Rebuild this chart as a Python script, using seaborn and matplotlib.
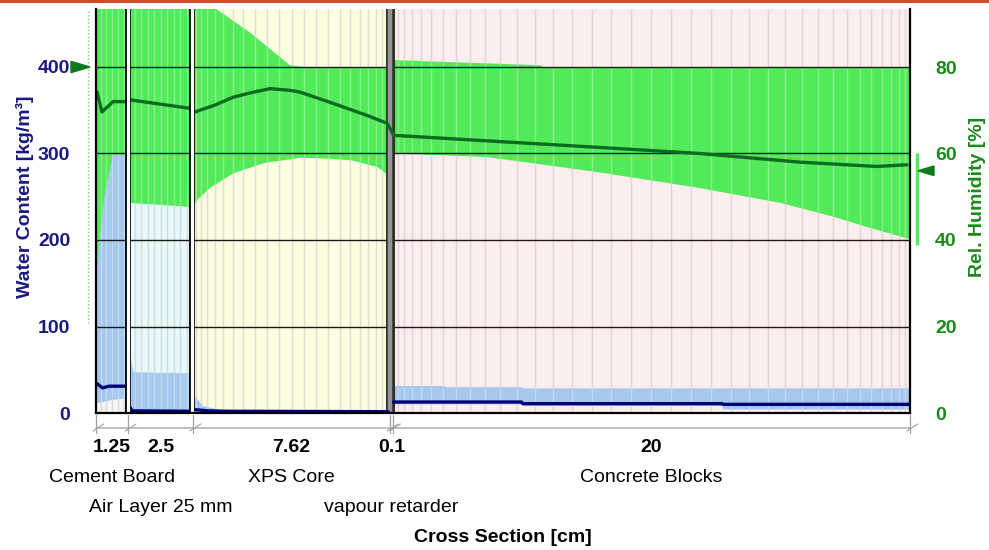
import numpy as np
import pandas as pd
import matplotlib
matplotlib.use("Agg")
import matplotlib.pyplot as plt
import seaborn as sns
from matplotlib.transforms import blended_transform_factory
from matplotlib.patches import Polygon, Rectangle
from matplotlib.lines import Line2D

# ---------------- data ----------------
layer_names = ["Cement Board", "Air Layer 25 mm", "XPS Core", "vapour retarder", "Concrete Blocks"]
layer_thickness_cm = [1.25, 2.5, 7.62, 0.1, 20.0]
thickness_labels = ["1.25", "2.5", "7.62", "0.1", "20"]
name_row = [0, 1, 0, 1, 0]            # which text row each layer name sits in
mesh_intervals = [6, 10, 22, 0, 36]    # numerical grid cells per layer
layer_bg = ["#f6f6f6", "#e8f9fb", "#fdfde2", "#8c8c8c", "#fdeeee"]

wc_ticks = [0, 100, 200, 300, 400]
rh_ticks = [0, 20, 40, 60, 80]

# Relative humidity envelope (min / max over the run), % ; x in cm
rh_env_x_max = [[0.0, 1.25], [1.25, 3.75],
                [3.75, 4.7, 5.95, 7.5, 8.0, 11.37],
                [11.47, 17.2, 17.25, 31.47]]
rh_env_max = [[100, 100], [100, 100],
              [97.4, 93.2, 88.0, 80.4, 80.0, 80.0],
              [81.6, 80.4, 80.0, 80.0]]
rh_env_x_min = [[0.0, 1.25], [1.25, 3.75],
                [3.75, 3.9, 4.4, 5.3, 6.5, 7.9, 9.0, 9.9, 10.9, 11.37],
                [11.47, 15.1, 19.5, 23.35, 26.45, 28.5, 29.8, 31.47]]
rh_env_min = [[30, 30], [48.6, 47.6],
              [47.6, 49.2, 52.0, 55.4, 57.8, 59.0, 58.8, 58.4, 56.8, 54.6],
              [60.0, 59.2, 55.6, 52.0, 48.6, 45.4, 43.0, 40.2]]

# Water content envelope, kg/m3
wc_env_x_max = [[0.0, 0.3, 0.65, 1.25], [1.25, 1.3, 1.36, 1.45, 3.75],
                [3.75, 3.95, 4.15, 4.6, 5.05, 11.37],
                [11.47, 13.5, 13.55, 16.45, 16.5, 31.47]]
wc_env_max = [[160, 246, 298, 298], [130, 120, 60, 47, 46],
              [22, 15, 8, 5, 3.5, 3],
              [31.2, 31.2, 29.7, 29.7, 28.5, 28.5]]
wc_env_x_min = [[0.0, 0.6, 1.25], [1.25, 3.75], [3.75, 11.37],
                [11.47, 16.45, 16.5, 24.2, 24.25, 31.47]]
wc_env_min = [[11, 15, 17], [0, 0], [0, 0],
              [10, 10, 8, 8, 4, 4]]

# Current profiles
rh_x = [0.04, 0.23, 0.66, 1.2,
        1.32, 2.5, 3.68,
        3.82, 4.6, 5.3, 5.95, 6.73, 7.5, 7.89, 9.16, 10.48, 11.25, 11.4, 11.5,
        14.34, 19.48, 23.35, 27.21, 30.19, 31.35]
rh_val = [74.2, 69.6, 72.0, 72.0,
          72.4, 71.4, 70.4,
          69.6, 71.2, 73.0, 74.0, 75.0, 74.6, 74.2, 71.6, 68.8, 67.0, 65.5, 64.2,
          63.2, 61.4, 60.0, 58.0, 57.0, 57.4]
rh_seg = [0] * 4 + [1] * 3 + [2] * 18

wc_x = [0.04, 0.25, 0.5, 1.2,
        1.28, 1.4, 3.7,
        3.8, 4.3, 5.0, 11.3,
        11.5, 16.45, 16.5, 24.2, 24.25, 31.45]
wc_val = [34, 29, 31, 31,
          8, 2.5, 2,
          4, 2.5, 2, 1.5,
          12.7, 12.7, 10.8, 10.8, 10.0, 10.0]
wc_seg = [0] * 4 + [1] * 3 + [2] * 4 + [3] * 6

# boundary climate ranges (RH %)
left_rh_range = [20.8, 100]
left_rh_mark = 80
right_rh_range = [38.8, 60]
right_rh_mark = 56

# ---------------- style ----------------
RH_SCALE = 5.0  # 80 % RH sits on 400 kg/m3
GREEN = "#52ea5a"
DKGREEN = "#0b6b1e"
LTBLUE = "#a6c8ec"
NAVY = "#00007a"
LBL_NAVY = "#1a1a7e"
LBL_GREEN = "#1a8a1a"

sns.set_style("white")
plt.rcParams["font.family"] = ["Liberation Sans", "DejaVu Sans"]

W, H = 989, 550
fig = plt.figure(figsize=(W / 100, H / 100), dpi=100)
fig.patch.set_facecolor("white")
L_PX, R_PX, B_PX, T_PX = 96, 910, 413, 9
ax = fig.add_axes([L_PX / W, 1 - B_PX / H, (R_PX - L_PX) / W, (B_PX - T_PX) / H])
total = sum(layer_thickness_cm)
px_per_unit = 0.865
YMAX = (B_PX - T_PX) / px_per_unit
ax.set_xlim(0, total)
ax.set_ylim(0, YMAX)
ax.set_facecolor("white")

edges = np.r_[0, np.cumsum(layer_thickness_cm)]

# layer backgrounds + mesh lines
mesh_pos = []
for i in range(len(layer_thickness_cm)):
    a, b = edges[i], edges[i + 1]
    if i != 3:
        ax.axvspan(a, b, color=layer_bg[i], lw=0, zorder=0)
    n = mesh_intervals[i]
    if n > 0:
        u = np.linspace(0, 1, n + 1)[1:-1]
        w = 1.0 if i == 1 else (0.8 if i == 0 else 0.3)
        um = w * u + (1 - w) * (1 - np.cos(np.pi * u)) / 2
        mesh_pos.extend(a + (b - a) * um)
mesh_pos = np.array(mesh_pos)
ax.vlines(mesh_pos, 0, YMAX, colors=[(0, 0, 0, 0.16)], lw=1.0, zorder=0.5)

# RH envelope (green)
for xu, yu, xl, yl in zip(rh_env_x_max, rh_env_max, rh_env_x_min, rh_env_min):
    px = np.r_[xu, xl[::-1]]
    py = np.r_[yu, yl[::-1]] * RH_SCALE
    ax.fill(px, py, color=GREEN, lw=0, zorder=1)

# water-content envelope (light blue)
for xu, yu, xl, yl in zip(wc_env_x_max, wc_env_max, wc_env_x_min, wc_env_min):
    px = np.r_[xu, xl[::-1]]
    py = np.r_[yu, yl[::-1]]
    ax.fill(px, py, color=LTBLUE, lw=0, zorder=1.5)

ax.vlines(mesh_pos, 0, YMAX, colors=[(1, 1, 1, 0.3)], lw=1.0, zorder=2)

# horizontal grid
ax.hlines(wc_ticks[1:], 0, total, colors="#1a1a1a", lw=1.0, zorder=2.5)

# vapour retarder band
vr_c = edges[3] + 0.01
ax.axvline(vr_c, color="#303030", lw=6.5, zorder=2.8)
ax.axvline(vr_c, color="#959595", lw=3.2, zorder=2.85)

# profiles via seaborn
rh_df = pd.DataFrame({"x": rh_x, "y": np.array(rh_val) * RH_SCALE, "seg": rh_seg})
wc_df = pd.DataFrame({"x": wc_x, "y": wc_val, "seg": wc_seg})
sns.lineplot(data=rh_df, x="x", y="y", units="seg", estimator=None, sort=False,
             color=DKGREEN, lw=2.4, ax=ax, zorder=3, legend=False)
sns.lineplot(data=wc_df, x="x", y="y", units="seg", estimator=None, sort=False,
             color=NAVY, lw=2.4, ax=ax, zorder=3, legend=False)

# layer boundaries (double lines)
for xb in [edges[1] - 0.01, edges[2] - 0.03]:
    ax.axvline(xb, color="black", lw=4.2, zorder=4)
    ax.axvline(xb, color="white", lw=2.3, zorder=4.1)

# spines / ticks
for s in ["left", "bottom", "right"]:
    ax.spines[s].set_visible(True)
    ax.spines[s].set_color("black")
    ax.spines[s].set_linewidth(1.6)
    ax.spines[s].set_zorder(5)
ax.spines["top"].set_visible(False)
ax.set_xticks([])
ax.set_yticks(wc_ticks)
ax.tick_params(axis="y", length=0, pad=18.5, labelsize=14, labelcolor=LBL_NAVY)
for t in ax.get_yticklabels():
    t.set_fontweight("bold")
ax.set_xlabel("")
ax.set_ylabel("")

ax2 = ax.twinx()
ax2.set_ylim(0, YMAX / RH_SCALE)
ax2.set_yticks(rh_ticks)
ax2.tick_params(axis="y", length=0, pad=18, labelsize=14, labelcolor=LBL_GREEN)
for t in ax2.get_yticklabels():
    t.set_fontweight("bold")
for s in ax2.spines.values():
    s.set_visible(False)

# axis titles
fig.text(25 / W, 1 - 197 / H, "Water Content [kg/m³]", rotation=90, ha="center", va="center",
         fontsize=14, fontweight="bold", color=LBL_NAVY)
fig.text(978 / W, 1 - 197 / H, "Rel. Humidity [%]", rotation=90, ha="center", va="center",
         fontsize=14, fontweight="bold", color=LBL_GREEN)

# boundary-climate markers
axw = R_PX - L_PX
bt = blended_transform_factory(ax.transAxes, ax.transData)
ax.plot([-8 / axw, -8 / axw], [left_rh_range[0] * RH_SCALE, YMAX], transform=bt,
        ls=(0, (1, 1.6)), color="#6fd87a", lw=1.0, clip_on=False, zorder=5)
ym = left_rh_mark * RH_SCALE
ax.add_patch(Polygon([(-6 / axw, ym), (-25 / axw, ym + 6.5), (-25 / axw, ym - 6.5)],
                     closed=True, transform=bt, color="#0b7a1b", clip_on=False, zorder=6))
ax.plot([1 + 6.5 / axw] * 2, [right_rh_range[0] * RH_SCALE, right_rh_range[1] * RH_SCALE],
        transform=bt, color=GREEN, lw=2.4, clip_on=False, solid_capstyle="butt", zorder=5)
ym = right_rh_mark * RH_SCALE
ax.add_patch(Polygon([(1 + 8 / axw, ym), (1 + 24 / axw, ym + 5.5), (1 + 24 / axw, ym - 5.5)],
                     closed=True, transform=bt, color="#0b7a1b", clip_on=False, zorder=6))

# dimension line below the plot
axh = B_PX - T_PX
bx = blended_transform_factory(ax.transData, ax.transAxes)
ax.plot([0, total], [-(428 - B_PX) / axh] * 2, transform=bx, color="#b4b4b4", lw=1.2, clip_on=False)
for xb in edges:
    ax.plot([xb, xb], [-(415 - B_PX) / axh, -(433 - B_PX) / axh], transform=bx,
            color="#a0a0a0", lw=0.9, clip_on=False)
    ax.plot([xb - 0.12, xb + 0.3], [-(431 - B_PX) / axh, -(424 - B_PX) / axh], transform=bx,
            color="#a0a0a0", lw=0.8, clip_on=False)

# texts below
bf = blended_transform_factory(ax.transData, fig.transFigure)
centers = (edges[:-1] + edges[1:]) / 2
row_y = [1 - 478 / H, 1 - 507 / H]
for c, tl, nm, r in zip(centers, thickness_labels, layer_names, name_row):
    ax.text(c, 1 - 448 / H, tl, transform=bf, ha="center", va="center",
            fontsize=14, fontweight="bold", color="black")
    ax.text(c, row_y[r], nm, transform=bf, ha="center", va="center",
            fontsize=14, color="black")
fig.text((L_PX + R_PX) / 2 / W, 1 - 537 / H, "Cross Section [cm]", ha="center", va="center",
         fontsize=14, fontweight="bold", color="black")

# top red rule
fig.add_artist(Rectangle((0, 1 - 3 / H), 1, 3 / H, transform=fig.transFigure,
                         color="#d24a2a", lw=0))

fig.savefig("out.png", dpi=100)
